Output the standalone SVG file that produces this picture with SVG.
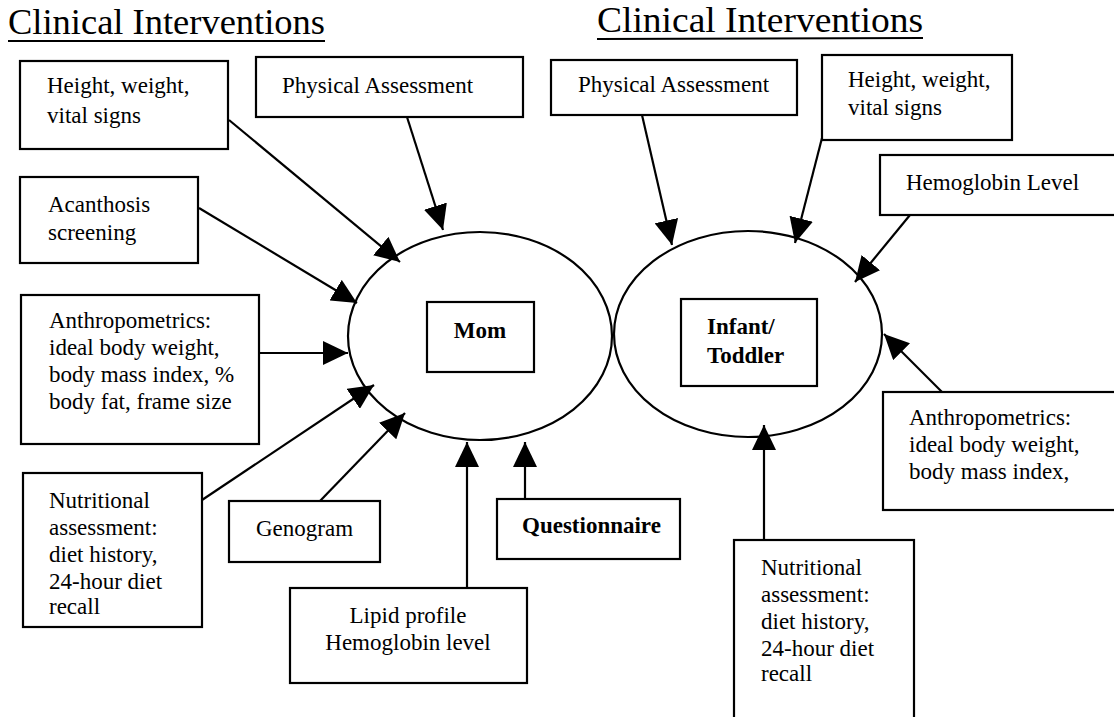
<svg xmlns="http://www.w3.org/2000/svg" width="1114" height="717" viewBox="0 0 1114 717">
<style>
.box{fill:#fff;stroke:#000;stroke-width:2.2}
.ell{fill:none;stroke:#000;stroke-width:2.2}
.t{font-family:"Liberation Serif","Times New Roman",serif;font-size:23px;fill:#000}
.b{font-weight:bold}
.title{font-family:"Liberation Serif","Times New Roman",serif;font-size:36px;fill:#000}
.ul{stroke:#000;stroke-width:2}
.c line{stroke:#000;stroke-width:2.2;marker-end:url(#ah)}
</style>
<defs>
<marker id="ah" markerUnits="userSpaceOnUse" markerWidth="26" markerHeight="24" refX="25" refY="12" orient="auto">
<path d="M0,0 L25,12 L0,24 z" fill="#000"/>
</marker>
</defs>
<rect width="1114" height="717" fill="#fff"/>

<g id="title-left">
<text class="title" x="8" y="34" textLength="317" lengthAdjust="spacingAndGlyphs">Clinical Interventions</text>
<line class="ul" x1="8" y1="41" x2="325" y2="41"/>
</g>
<g id="title-right">
<text class="title" x="597" y="32" textLength="326" lengthAdjust="spacingAndGlyphs">Clinical Interventions</text>
<line class="ul" x1="597" y1="39" x2="923" y2="38"/>
</g>

<g id="mom">
<ellipse class="ell" cx="480" cy="336" rx="132" ry="104"/>
<rect class="box" x="427" y="302" width="107" height="70"/>
<text class="t b" x="480" y="338" text-anchor="middle">Mom</text>
</g>
<g id="infant">
<ellipse class="ell" cx="748" cy="334" rx="134" ry="103"/>
<rect class="box" x="681" y="299" width="136" height="87"/>
<text class="t b" x="707" y="334">Infant/</text>
<text class="t b" x="707" y="363">Toddler</text>
</g>

<g id="l-height">
<rect class="box" x="20" y="61" width="208" height="88"/>
<text class="t" x="47" y="93">Height, weight,</text>
<text class="t" x="47" y="123">vital signs</text>
</g>
<g id="l-physical">
<rect class="box" x="256" y="57" width="267" height="60"/>
<text class="t" x="282" y="93">Physical Assessment</text>
</g>
<g id="l-acanthosis">
<rect class="box" x="20" y="177" width="178" height="86"/>
<text class="t" x="48" y="212">Acanthosis</text>
<text class="t" x="48" y="240">screening</text>
</g>
<g id="l-anthro">
<rect class="box" x="21" y="295" width="238" height="149"/>
<text class="t" x="49" y="328">Anthropometrics:</text>
<text class="t" x="49" y="355">ideal body weight,</text>
<text class="t" x="49" y="382">body mass index, %</text>
<text class="t" x="49" y="409">body fat, frame size</text>
</g>
<g id="l-nutrition">
<rect class="box" x="23" y="473" width="179" height="154"/>
<text class="t" x="49" y="508">Nutritional</text>
<text class="t" x="49" y="535">assessment:</text>
<text class="t" x="49" y="562">diet history,</text>
<text class="t" x="49" y="589">24-hour diet</text>
<text class="t" x="49" y="614">recall</text>
</g>
<g id="l-genogram">
<rect class="box" x="229" y="501" width="151" height="61"/>
<text class="t" x="256" y="536">Genogram</text>
</g>
<g id="l-lipid">
<rect class="box" x="290" y="588" width="237" height="95"/>
<text class="t" x="408" y="623" text-anchor="middle">Lipid profile</text>
<text class="t" x="408" y="650" text-anchor="middle">Hemoglobin level</text>
</g>
<g id="l-questionnaire">
<rect class="box" x="497" y="499" width="183" height="60"/>
<text class="t b" x="522" y="533">Questionnaire</text>
</g>

<g id="r-physical">
<rect class="box" x="551" y="60" width="246" height="55"/>
<text class="t" x="578" y="92">Physical Assessment</text>
</g>
<g id="r-height">
<rect class="box" x="822" y="55" width="190" height="85"/>
<text class="t" x="848" y="87">Height, weight,</text>
<text class="t" x="848" y="115">vital signs</text>
</g>
<g id="r-hemoglobin">
<rect class="box" x="880" y="155" width="240" height="60"/>
<text class="t" x="906" y="190">Hemoglobin Level</text>
</g>
<g id="r-anthro">
<rect class="box" x="883" y="392" width="240" height="118"/>
<text class="t" x="909" y="425">Anthropometrics:</text>
<text class="t" x="909" y="452">ideal body weight,</text>
<text class="t" x="909" y="479">body mass index,</text>
</g>
<g id="r-nutrition">
<rect class="box" x="734" y="540" width="180" height="190"/>
<text class="t" x="761" y="575">Nutritional</text>
<text class="t" x="761" y="602">assessment:</text>
<text class="t" x="761" y="629">diet history,</text>
<text class="t" x="761" y="656">24-hour diet</text>
<text class="t" x="761" y="681">recall</text>
</g>

<g id="connectors" class="c">
<line x1="229" y1="120" x2="400" y2="262"/>
<line x1="407" y1="117" x2="443" y2="230"/>
<line x1="199" y1="208" x2="357" y2="303"/>
<line x1="259" y1="353" x2="348" y2="353"/>
<line x1="202" y1="500" x2="374" y2="385"/>
<line x1="320" y1="501" x2="405" y2="413"/>
<line x1="467" y1="588" x2="467" y2="442"/>
<line x1="525" y1="499" x2="525" y2="442"/>
<line x1="642" y1="115" x2="672" y2="245"/>
<line x1="822" y1="138" x2="795" y2="243"/>
<line x1="910" y1="215" x2="855" y2="282"/>
<line x1="942" y1="392" x2="884" y2="334"/>
<line x1="764" y1="540" x2="764" y2="425"/>
</g>
</svg>
